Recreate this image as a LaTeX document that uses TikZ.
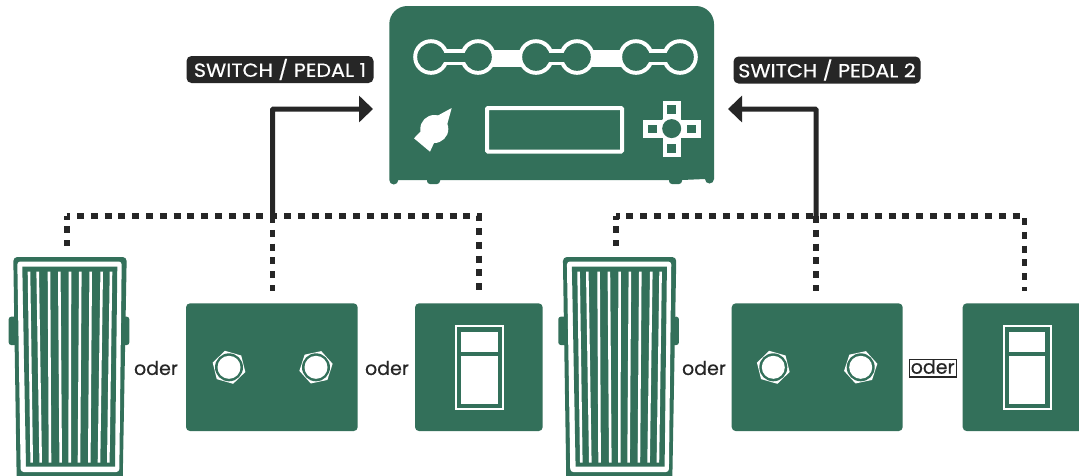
\documentclass[tikz,border=0pt]{standalone}
\usepackage{fontspec}
\setmainfont{Poppins}
\newfontfamily\tagfont{Poppins}[FakeBold=0.5,FakeStretch=1.09]
\newfontfamily\wordfont{Poppins}[FakeBold=0.4]
\usetikzlibrary{arrows.meta}
\definecolor{pgreen}{RGB}{51,112,90}
\definecolor{pdark}{RGB}{38,38,38}
\tikzset{
  panel/.style={fill=pgreen,rounded corners=4pt,inner sep=0pt,outer sep=0pt},
  dots/.style={draw=pdark,line width=5.6pt,dash pattern=on 7pt off 6.8pt},
  feed/.style={draw=pdark,line width=5pt,-{Triangle[length=14pt,width=26pt]}},
  tag/.style={fill=pdark,text=white,rounded corners=5pt,inner sep=0pt,minimum width=187pt,minimum height=27pt,font=\tagfont\fontsize{19}{20}\selectfont},
  word/.style={text=pdark,inner sep=0pt,font=\wordfont\fontsize{19}{20}\selectfont},
}
\newcommand{\nutat}[3]{%
  \fill[white] (#1,#2) ++(-#3:17) -- ++(-#3-120:17) -- ++(-#3-180:17) -- ++(-#3-240:17) -- ++(-#3-300:17) -- ++(-#3:17) -- cycle;
  \fill[pgreen] (#1,#2) circle[radius=14];
  \fill[white] (#1,#2) circle[radius=11.5];
}
\newcommand{\wahpedal}[1]{%
  \begin{scope}[xshift=#1]
    \fill[pgreen,rounded corners=2.5pt] (8.7,316.7) rectangle (20,345);
    \fill[pgreen,rounded corners=2.5pt] (118,316.7) rectangle (129.3,345);
    \fill[pgreen,rounded corners=4pt] (13.3,257) -- (126.7,257) -- (122.7,480) -- (16.7,480) -- cycle;
    \fill[white,rounded corners=3pt] (17.3,261.5) -- (121.7,261.5) -- (119.3,472) -- (20.7,472) -- cycle;
    \fill[pgreen] (22.3,266.7) -- (117.3,266.7) -- (115,466.7) -- (26,466.7) -- cycle;
    \foreach \ta/\tb in {29/31.7,37.7/40.7,49/50,59.3/60.7,70/69.7,80.3/79,90.7/89.3,101.7/99,111/108.3}
      \draw[white,line width=2.6pt] (\ta,271.7) -- (\tb,462.7);
  \end{scope}
}
\newcommand{\toggle}[1]{%
  \begin{scope}[xshift=#1]
    \draw[white,line width=2pt] (456,326.3) rectangle (503,409);
    \fill[white] (461,331.7) rectangle (497.7,351.7);
    \fill[white] (461,356) rectangle (497.7,404);
  \end{scope}
}
\begin{document}
\begin{tikzpicture}[x=1pt,y=-1pt]
\useasboundingbox (0,0) rectangle (1079,475);
\clip (0,0) rectangle (1079,475);
\fill[white] (0,0) rectangle (1079,475);

% main unit
\fill[pgreen] (389.3,24) arc[start angle=180,end angle=270,radius=18] -- (696,6)
  arc[start angle=270,end angle=360,radius=18] -- (714,179)
  arc[start angle=0,end angle=180,radius=4.5] -- (682,180)
  -- (682,181) arc[start angle=0,end angle=90,radius=3] -- (672,184)
  arc[start angle=90,end angle=180,radius=3] -- (669,180) -- (440,180)
  -- (440,181) arc[start angle=0,end angle=90,radius=3] -- (430,184)
  arc[start angle=90,end angle=180,radius=3] -- (427,180) -- (398.3,180)
  arc[start angle=0,end angle=180,radius=4.5] -- cycle;
% jack row
\fill[white] (431,57) circle[radius=17.8] (478,57) circle[radius=17.8]
  (536,57) circle[radius=17.8] (577,57) circle[radius=17.8]
  (636,57) circle[radius=17.8] (680,57) circle[radius=17.8];
\fill[white] (431,49.3) rectangle (478,65.3);
\fill[white] (478,50) rectangle (536,66.7);
\fill[white] (536,49.3) rectangle (577,65.3);
\fill[white] (577,50) rectangle (636,66.7);
\fill[white] (636,49.3) rectangle (680,65.3);
\fill[pgreen] (431,57) circle[radius=13.8] (478,57) circle[radius=13.8]
  (536,57) circle[radius=13.8] (577,57) circle[radius=13.8]
  (636,57) circle[radius=13.8] (680,57) circle[radius=13.8];
\fill[pgreen] (431,52.7) rectangle (478,61.7);
\fill[pgreen] (536,52.7) rectangle (577,61.7);
\fill[pgreen] (636,52.7) rectangle (680,61.7);
% knob
\fill[white] (451.7,108) -- (437,116) -- (447,125) -- cycle;
\fill[white] (434.3,129) circle[radius=14];
\fill[white] (414,138.3) -- (421,131) -- (434,143) -- (430,151.7) -- cycle;
% display
\draw[white,line width=4pt,rounded corners=1pt] (487,108) rectangle (622,151.5);
% cross
\fill[white] (662.7,100.7) rectangle (680.7,157.3);
\fill[white] (642.7,120) rectangle (700.7,137.7);
\fill[white] (671.7,128.6) circle[radius=13];
\fill[pgreen] (671.7,128.6) circle[radius=9.5];
\fill[pgreen] (667.3,105.3) rectangle (676,114);
\fill[pgreen] (667.3,144) rectangle (676,152.7);
\fill[pgreen] (647.7,124.7) rectangle (656.7,133.3);
\fill[pgreen] (686.7,124.7) rectangle (695.7,133.3);

% pedals
\wahpedal{0pt}
\wahpedal{549.6pt}
\node[panel,minimum width=171.7pt,minimum height=127.7pt] (dualA) at (271.85,367.2) {};
\node[panel,minimum width=127.7pt,minimum height=127.7pt] (toggleA) at (478.85,367.2) {};
\node[panel,minimum width=171pt,minimum height=127.7pt] (dualB) at (817.2,367.2) {};
\node[panel,minimum width=127.7pt,minimum height=127.7pt] (toggleB) at (1026.5,367.2) {};
\nutat{229}{367.3}{44}
\nutat{316}{367.3}{12}
\nutat{773.3}{367.3}{44}
\nutat{860.7}{367.3}{12}
\toggle{0pt}
\toggle{547.5pt}

% connectors
\coordinate (wahA) at (66.7,246);
\coordinate (jackA) at (272.5,291);
\coordinate (jackC) at (479,291);
\coordinate (busA) at (272.5,216);
\coordinate (inA) at (373,109);
\coordinate (wahB) at (616,246);
\coordinate (jackB) at (816,291);
\coordinate (jackD) at (1024.5,291);
\coordinate (busB) at (816,216);
\coordinate (inB) at (728,109);
\draw[dots,dash phase=3.5pt] (wahA |- busA) -- (busA) -| (jackC);
\draw[dots,dash phase=3.5pt] (wahA |- busA) -- (wahA);
\draw[dots] (busA) -- (jackA);
\draw[dots,dash phase=3.5pt] (wahB |- busB) -- (busB) -| (jackD);
\draw[dots,dash phase=3.5pt] (wahB |- busB) -- (wahB);
\draw[dots] (busB) -- (jackB);
\draw[feed,rounded corners=1pt] (busA) |- (inA);
\draw[feed,rounded corners=1pt] (busB) |- (inB);

% labels
\node[tag] (tagA) at (280,69.5) {SWITCH / PEDAL 1};
\node[tag] (tagB) at (827,70) {SWITCH / PEDAL 2};
\node[word] (orA) at (156,368) {oder};
\node[word] (orB) at (387,368) {oder};
\node[word] (orC) at (704,368) {oder};
\node[word,draw=pdark,line width=1.4pt,minimum width=47pt,minimum height=17.5pt,inner sep=0pt,text height=11pt,text depth=0pt] (orD) at (932.7,368.2) {oder};
\end{tikzpicture}
\end{document}
